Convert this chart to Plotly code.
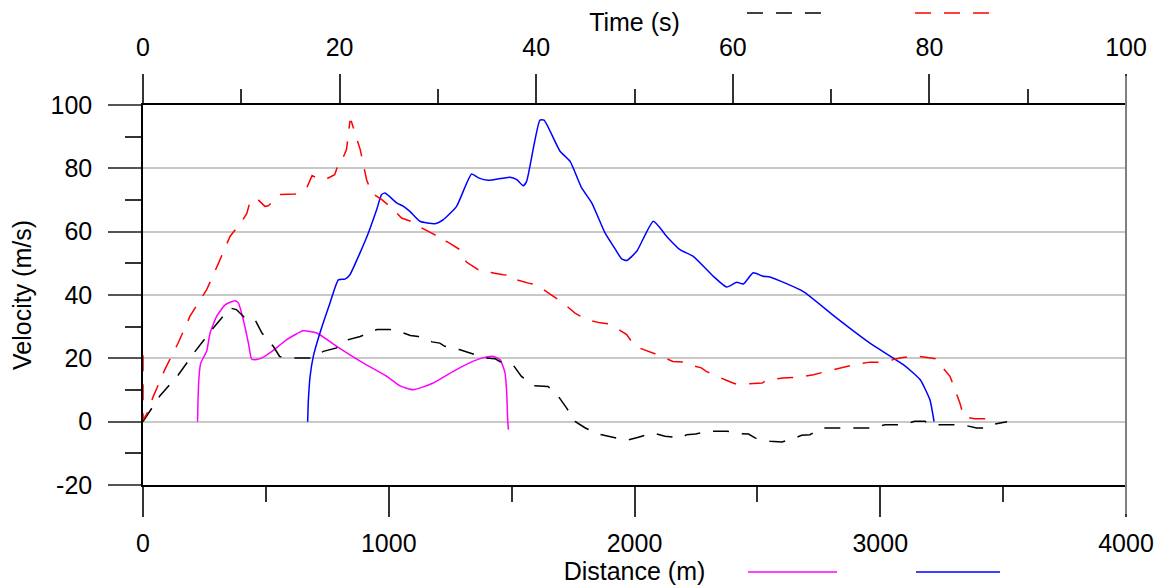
import plotly.graph_objects as go

# ---- data ----
red_t = [0, 0, 0.4, 1.05, 2.24, 3.6, 4.78, 6.48, 7.66, 8.85, 10.0, 10.55, 10.95, 11.7, 12.4, 12.75, 13.9, 15.5,
         16.65, 17.2, 18.0, 18.5, 19.5, 20.0, 20.3, 20.7, 21.05, 21.2, 22.1, 22.75, 23.25, 24.3, 25.5, 26.3,
         27.8, 28.35, 29.7, 30.2, 30.9, 32.25, 32.9, 34.1, 35.1, 35.5, 36.65, 37.7, 38.0, 39.4, 40.05, 40.6,
         41.75, 42.8, 43.95, 45.1, 46.5, 47.5, 48.0, 49.2, 50.05, 51.4, 52.3, 52.8, 53.9, 55.0, 55.5, 56.8,
         57.3, 58.0, 59.4, 60.2, 61.6, 63.0, 63.4, 65.1, 66.7, 68.2, 69.55, 70.9, 72.4, 73.96, 75.3, 77.0,
         78.5, 80.1, 80.6, 81.1, 82.1, 82.6, 83.1, 83.5, 84.6, 86.3]
red_v = [21, 0.5, 2.5, 8, 16.6, 25, 33.3, 41.7, 49.9, 58.5, 63, 65.7, 70.1, 70.1, 68, 68.2, 71.7, 71.9,
         73.8, 77.7, 76.5, 76.4, 78, 82.5, 83, 85.9, 94.8, 94.8, 85.9, 76.4, 72.2, 70.1, 67, 64.3,
         62.7, 61.2, 59, 56.9, 56.9, 54.3, 50.4, 48, 47.8, 47, 46.4, 46.1, 44.8, 43.6, 43.3, 42,
         39.6, 37.3, 34.3, 32.2, 31.2, 30.9, 29.9, 27.5, 23.8, 22.2, 21.2, 20.6, 19, 18.8, 18, 17,
         15.9, 14.8, 13, 12, 12, 12.2, 13, 13.8, 14, 14.8, 15.9, 17, 18, 18.8, 18.8, 20.1,
         20.8, 20.1, 19.9, 18, 14.3, 10.1, 5.9, 1.5, 0.95, 0.95]

black_t = [0, 1.73, 3.6, 5.3, 7.15, 8.85, 9.5, 10.55, 11.4, 12.1, 13.25, 13.9, 15.3, 17, 18.35, 19.7, 20.9,
           22.1, 23.8, 25.1, 26.5, 27.2, 28, 29.4, 30.2, 30.7, 32.25, 32.9, 33.4, 34.8, 35.8, 36.3, 37.7,
           38.5, 39.7, 41.2, 42.25, 43.1, 43.95, 45, 46.3, 47.7, 49.2, 50.4, 51.9, 53.1, 54.8, 55.3, 56.2,
           57.7, 59.4, 60.7, 61.6, 62.3, 63.8, 65, 66.3, 67, 67.85, 69, 70.7, 72.4, 74.1, 75.5, 77.2,
           78.5, 79.55, 80.1, 81.8, 83.4, 84.8, 85.8, 86.3, 87.9]
black_v = [0, 8.2, 14.8, 22.2, 29.6, 35.9, 35.4, 32.2, 32.2, 28, 23.8, 20.6, 20.1, 20.1, 22.2, 23.3, 25.9,
           26.9, 29.1, 29.1, 28, 27.2, 26.9, 25.2, 24.8, 23.8, 22.7, 22, 21.7, 20.1, 19.9, 19, 17.7,
           14.3, 11.4, 11.1, 8, 4.3, 0.1, -2, -3.9, -4.9, -5.9, -4.9, -3.6, -4.6, -5.2, -4.1, -3.9,
           -3, -3, -3.8, -3.9, -5.2, -6.2, -6.4, -5.2, -4.3, -4.1, -2, -2, -2, -2, -1, -1,
           0.1, 0.1, -1, -1, -1, -2, -2, -1, 0]

magenta_d = [222, 224, 228, 235, 248, 259, 273, 300, 334, 374, 388, 408, 429, 442, 463, 490, 530, 585,
             652, 707, 788, 897, 992, 1046, 1100, 1181, 1263, 1344, 1398, 1426, 1453, 1473, 1480, 1484, 1487]
magenta_v = [0, 6.9, 14.3, 18.5, 20.6, 22.2, 28, 33.3, 36.9, 38.2, 37.5, 32.2, 24.8, 19.8, 19.6, 20.4, 22.5, 25.9,
             28.7, 28, 23.8, 18.5, 14.3, 11.3, 10.1, 12.2, 15.9, 19.1, 20.4, 20.6, 19.6, 15.4, 9.1, 0.6, -2.5]

blue_d = [670, 673, 680, 693, 720, 761, 795, 822, 842, 883, 917, 951, 971, 985, 1032, 1060, 1086, 1127, 1188,
          1222, 1276, 1337, 1365, 1405, 1493, 1521, 1547, 1561, 1615, 1632, 1697, 1738, 1785, 1826, 1880, 1914,
          1948, 1968, 2009, 2077, 2131, 2185, 2239, 2321, 2375, 2416, 2443, 2483, 2524, 2551, 2687, 2823, 2958,
          3094, 3162, 3202, 3219]
blue_v = [0, 6.9, 14.3, 20.6, 28, 37.5, 44.8, 45, 46.4, 53.3, 59.6, 67, 71.7, 72.2, 69.1, 68, 66.4, 63.3, 62.5,
          63.8, 68, 78.2, 77, 76.2, 77.2, 76.4, 74.5, 75.9, 95.2, 95.2, 85.4, 82.2, 73.8, 69.1, 59.6, 55.4,
          51.4, 50.9, 53.8, 63.3, 58.5, 54.3, 52.2, 45.9, 42.5, 44, 43.5, 47, 45.9, 45.7, 41.1, 32.7, 24.8,
          18, 13.3, 6.9, 0]

y_ticks = [-20, 0, 20, 40, 60, 80, 100]
y_ticktext = ["-20", "0", "20", "40", "60", "80", "100"]

FONT = "Liberation Sans, Arial, sans-serif"
FS = 25
DASH = "16px,13px"

fig = go.Figure()
fig.add_trace(go.Scatter(x=magenta_d, y=magenta_v, mode="lines", name="magenta",
                         line=dict(color="#ff00ff", width=1.5, shape="spline", smoothing=0.5)))
fig.add_trace(go.Scatter(x=blue_d, y=blue_v, mode="lines", name="blue",
                         line=dict(color="#0000ff", width=1.5, shape="spline", smoothing=0.5)))
fig.add_trace(go.Scatter(x=black_t, y=black_v, mode="lines", name="black", xaxis="x2",
                         line=dict(color="black", width=1.5, dash=DASH)))
fig.add_trace(go.Scatter(x=red_t, y=red_v, mode="lines", name="red", xaxis="x2",
                         line=dict(color="#ff0000", width=1.5, dash=DASH)))

common = dict(showgrid=False, zeroline=False, showline=True, linecolor="black", linewidth=1.5,
              ticks="outside", tickcolor="#333", tickwidth=1.5, automargin=False,
              tickfont=dict(family=FONT, size=FS, color="black"))

# page body has an 8px margin, so the figure is drawn 8px smaller with 8px less left/top margin
fig.update_layout(
    width=1154, height=578,
    margin=dict(l=135, r=36, t=97, b=101, autoexpand=False),
    plot_bgcolor="white", paper_bgcolor="white",
    showlegend=False,
    font=dict(family=FONT, size=FS, color="black"),
    xaxis=dict(range=[0, 4000], tick0=0, dtick=1000, ticklen=30,
               minor=dict(dtick=500, ticklen=15, ticks="outside", tickcolor="#333", tickwidth=1.5),
               title=dict(text="Distance (m)", font=dict(family=FONT, size=FS), standoff=3),
               ticklabelstandoff=5, **common),
    xaxis2=dict(range=[0, 100], tick0=0, dtick=20, ticklen=29, overlaying="x", side="top",
                minor=dict(dtick=10, ticklen=14, ticks="outside", tickcolor="#333", tickwidth=1.5),
                title=dict(text="Time (s)", font=dict(family=FONT, size=FS), standoff=8),
                ticklabelstandoff=8, **common),
    yaxis=dict(range=[-20, 100], tickvals=y_ticks, ticktext=y_ticktext, ticklen=33,
               minor=dict(dtick=10, ticklen=16, ticks="outside", tickcolor="#333", tickwidth=1.5),
               showgrid=True, gridcolor="#c8c8c8", gridwidth=1.5, zeroline=False,
               showline=True, linecolor="black", linewidth=1.5, automargin=False,
               ticks="outside", tickcolor="#555", tickwidth=1.5,
               tickfont=dict(family=FONT, size=FS, color="black"), ticklabelstandoff=11,
               title=dict(text="Velocity (m/s)", font=dict(family=FONT, size=FS), standoff=14)),
)

# right border line (grey) spanning tick extents
fig.add_shape(type="line", xref="paper", yref="paper", x0=1, x1=1, y0=-0.076, y1=1.076,
              line=dict(color="#808080", width=2))

# legend line samples beside axis titles
samples = [
    (0.6144, 0.6989, 1.2421, "black", DASH),
    (0.7854, 0.8698, 1.2421, "#ff0000", DASH),
    (0.6155, 0.7060, -0.229, "#ff00ff", "solid"),
    (0.7864, 0.8718, -0.229, "#0000ff", "solid"),
]
for x0, x1, y, c, d in samples:
    fig.add_shape(type="line", xref="paper", yref="paper", x0=x0, x1=x1, y0=y, y1=y,
                  line=dict(color=c, width=1.5, dash=d))

fig.write_html("out.html")
